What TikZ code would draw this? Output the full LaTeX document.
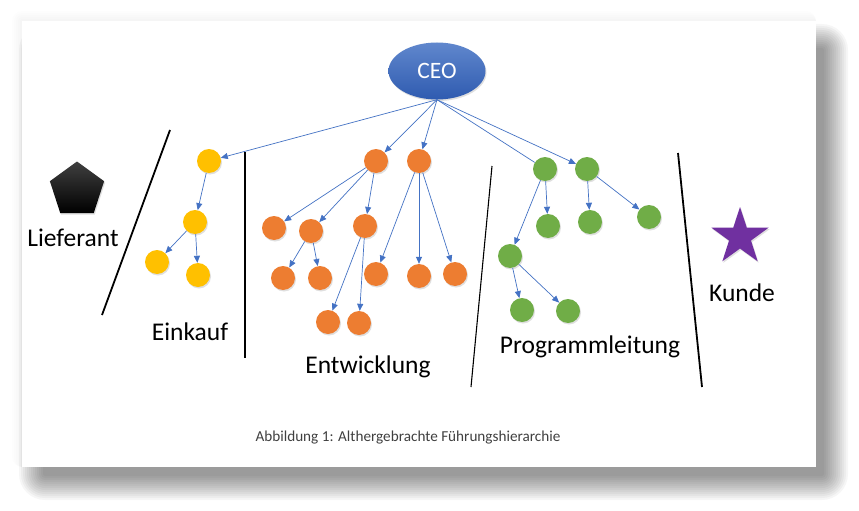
\documentclass[tikz,border=0pt]{standalone}
\usepackage{fontspec}
\setmainfont{Carlito}
\usetikzlibrary{shapes.geometric,arrows.meta,shadows}
\definecolor{ceoblue}{HTML}{4472C4}
\definecolor{ceodark}{HTML}{2F5BB0}
\definecolor{orgorange}{HTML}{ED7D31}
\definecolor{orgyellow}{HTML}{FFC000}
\definecolor{orggreen}{HTML}{70AD47}
\definecolor{orgpurple}{HTML}{7030A0}
\definecolor{capgray}{HTML}{404040}
\tikzset{
  dot/.style={circle,minimum size=24pt,inner sep=0pt,
    drop shadow={shadow xshift=1pt,shadow yshift=-1.5pt,opacity=0.25}},
  yel/.style={dot,fill=orgyellow},
  org/.style={dot,fill=orgorange},
  grn/.style={dot,fill=orggreen},
  edge/.style={draw=ceoblue,line width=0.7pt,-{Triangle[length=7pt,width=6pt]}},
  plainedge/.style={draw=ceoblue,line width=0.7pt},
  septhick/.style={line width=1.8pt,black},
  septhin/.style={line width=1.1pt,black},
  lbl/.style={font=\fontsize{25.5}{28}\selectfont,text=black,inner sep=0pt}
}
\begin{document}
\begin{tikzpicture}[x=1pt,y=-1pt]
\useasboundingbox (0,0) rectangle (859,511);
\fill[white] (0,0) rectangle (859,511);
% card shadow
\foreach \i in {1,...,13} {
  \fill[black,opacity=0.035,rounded corners=\i*2pt]
    ({45-\i*2},{50-\i*2}) rectangle ({822+\i*2},{474+\i*2});
}
% faint halo top-left
\foreach \i in {1,...,5} {
  \fill[black,opacity=0.008,rounded corners=\i*2pt]
    ({22-\i*2},{21-\i*2}) rectangle ({816},{467});
}
% card
\fill[white] (22,21) rectangle (816,467);

% CEO
\node[ellipse,minimum width=97pt,minimum height=57pt,inner sep=0pt,
  top color=ceoblue!85!white,bottom color=ceodark,
  drop shadow={shadow xshift=1pt,shadow yshift=-1.5pt,opacity=0.25},
  text=white,font=\fontsize{23.5}{26}\selectfont] (ceo) at (437,71) {CEO};

% yellow
\node[yel] (y1) at (209,161) {};
\node[yel] (y2) at (195,222) {};
\node[yel] (y3) at (157,262) {};
\node[yel] (y4) at (198,275) {};

% orange
\node[org] (o1) at (376,161) {};
\node[org] (o2) at (419,161) {};
\node[org] (o3) at (274,228) {};
\node[org] (o4) at (311,231) {};
\node[org] (o5) at (365,226) {};
\node[org] (o6) at (283,278) {};
\node[org] (o7) at (320,278) {};
\node[org] (o8) at (376,274) {};
\node[org] (o9) at (419,276) {};
\node[org] (o10) at (455,274) {};
\node[org] (o11) at (328,322) {};
\node[org] (o12) at (359,323) {};

% green
\node[grn] (g1) at (545,169) {};
\node[grn] (g2) at (587,169) {};
\node[grn] (g3) at (548,226) {};
\node[grn] (g4) at (590,222) {};
\node[grn] (g5) at (649,217) {};
\node[grn] (g6) at (510,256) {};
\node[grn] (g7) at (522,310) {};
\node[grn] (g8) at (568,311) {};

% edges
\draw[edge] (ceo.south) -- (y1);
\draw[edge] (ceo.south) -- (o1);
\draw[edge] (ceo.south) -- (o2);
\draw[plainedge] (ceo.south) -- (g1);
\draw[edge] (ceo.south) -- (g2);
\draw[edge] (y1) -- (y2);
\draw[edge] (y2) -- (y3);
\draw[edge] (y2) -- (y4);
\draw[edge] (o1) -- (o3);
\draw[edge] (o1) -- (o4);
\draw[edge] (o1) -- (o5);
\draw[edge] (o4) -- (o6);
\draw[edge] (o4) -- (o7);
\draw[edge] (o5) -- (o11);
\draw[edge] (o5) -- (o12);
\draw[edge] (o2) -- (o8);
\draw[edge] (o2) -- (o9);
\draw[edge] (o2) -- (o10);
\draw[edge] (g1) -- (g3);
\draw[edge] (g1) -- (g6);
\draw[edge] (g2) -- (g4);
\draw[edge] (g2) -- (g5);
\draw[edge] (g6) -- (g7);
\draw[edge] (g6) -- (g8);

% separators
\coordinate (s1a) at (170,130); \coordinate (s1b) at (102,315);
\coordinate (s2a) at (245,152); \coordinate (s2b) at (245,358);
\coordinate (s3a) at (492,166); \coordinate (s3b) at (471,387);
\coordinate (s4a) at (678,153); \coordinate (s4b) at (702,387);
\draw[septhick] (s1a) -- (s1b);
\draw[septhin] (s2a) -- (s2b);
\draw[septhin] (s3a) -- (s3b);
\draw[septhick] (s4a) -- (s4b);

% pentagon and star
\node[regular polygon,regular polygon sides=5,minimum size=57pt,inner sep=0pt,
  top color=black!75,bottom color=black,draw=none,
  drop shadow={shadow xshift=1pt,shadow yshift=-1.5pt,opacity=0.25}] (lief) at (77,190) {};
\node[star,star points=5,star point ratio=2.6,minimum size=60pt,inner sep=0pt,
  fill=orgpurple,
  drop shadow={shadow xshift=1pt,shadow yshift=-1.5pt,opacity=0.25}] (kunde) at (740,237) {};

% labels
\node[lbl] (tl) at (73,238) {Lieferant};
\node[lbl] (te) at (190,332) {Einkauf};
\node[lbl] (tent) at (368,367) {Entwicklung};
\node[lbl] (tp) at (590,347) {Programmleitung};
\node[lbl] (tk) at (742,293) {Kunde};
\node[font=\fontsize{15.2}{18}\selectfont,text=capgray,inner sep=0pt] (cap) at (408,438) {Abbildung 1: Althergebrachte Führungshierarchie};
\end{tikzpicture}
\end{document}
